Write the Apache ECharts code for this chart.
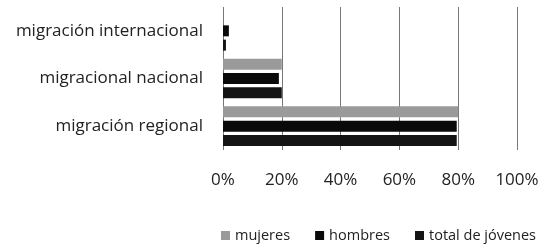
<!DOCTYPE html>
<html>
<head>
<meta charset="utf-8">
<title>migración</title>
<script src="https://cdn.jsdelivr.net/npm/echarts@6/dist/echarts.min.js"></script>
<style>
  html, body { margin: 0; padding: 0; background: #fff; }
  #chart { width: 543px; height: 245px; }
</style>
</head>
<body>
<div id="chart"></div>
<script>
var categories = ['migración regional', 'migracional nacional', 'migración internacional'];
var mujeres = [80, 20, 0];
var hombres = [79.5, 19, 2];
var total = [79.5, 20, 1];
var tickLabels = ['0%', '20%', '40%', '60%', '80%', '100%'];

var chart = echarts.init(document.getElementById('chart'));
var font = 'Open Sans';
chart.setOption({
    animation: false,
    textStyle: { fontFamily: font },
    grid: { left: 223, right: 26, top: 7, bottom: 95 },
    legend: {
        top: 223,
        left: 221,
        padding: [5, 0],
        itemWidth: 9,
        itemHeight: 9,
        itemGap: 25,
        icon: 'rect',
        textStyle: { fontSize: 14.5, color: '#222', fontFamily: font },
        data: ['mujeres', 'hombres', 'total de jóvenes']
    },
    xAxis: {
        type: 'value',
        min: 0,
        max: 100,
        interval: 20,
        axisLine: { show: false },
        axisTick: { show: false },
        splitLine: { lineStyle: { color: '#777', width: 1 } },
        axisLabel: {
            margin: 22,
            fontSize: 17,
            color: '#222',
            formatter: function (v) { return tickLabels[v / 20]; }
        }
    },
    yAxis: {
        type: 'category',
        data: categories,
        axisLine: { show: false },
        axisTick: { show: false },
        axisLabel: { margin: 20, fontSize: 17, color: '#222' }
    },
    series: [
        {
            name: 'mujeres', type: 'bar', data: mujeres, barWidth: 11, barGap: '30%',
            itemStyle: { color: '#9a9a9a' }
        },
        {
            name: 'hombres', type: 'bar', data: hombres, barWidth: 11, barGap: '30%',
            itemStyle: { color: '#0a0a0a' }
        },
        {
            name: 'total de jóvenes', type: 'bar', data: total, barWidth: 11, barGap: '30%',
            itemStyle: { color: '#141414' }
        }
    ]
});
</script>
</body>
</html>
